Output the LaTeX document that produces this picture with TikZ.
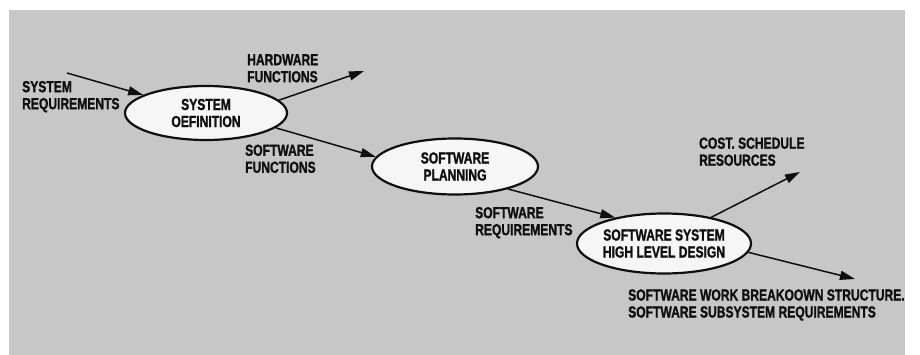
\documentclass[tikz,border=0pt]{standalone}
\usepackage{fontspec}
\newfontfamily\labfont{Liberation Sans}[FakeStretch=0.755, FakeBold=1.2]
\usetikzlibrary{shapes.geometric,arrows.meta}
\definecolor{bggray}{RGB}{199,199,199}
\definecolor{ellfill}{RGB}{246,246,246}
\definecolor{ink}{RGB}{15,15,15}
\tikzset{
  lab/.style={font=\labfont\bfseries\fontsize{16}{17}\selectfont, text=ink, inner sep=0pt, align=left, anchor=west},
  proc/.style={ellipse, draw=ink, line width=2.2pt, fill=ellfill, inner sep=0pt, align=center,
    font=\labfont\bfseries\fontsize{16}{17}\selectfont, text=ink},
  arr/.style={draw=ink, line width=1.5pt, -{Triangle[length=15pt,width=9pt]}}
}
\begin{document}
\begin{tikzpicture}[x=1pt,y=-1pt]
\useasboundingbox (0,0) rectangle (920,355);
\fill[white] (0,0) rectangle (920,355);
\fill[bggray] (9,10) rectangle (905,355);

% process ellipses
\node[proc, minimum width=162pt, minimum height=54pt] (sd) at (206,113) {SYSTEM\\OEFINITION};
\node[proc, minimum width=166pt, minimum height=56pt] (sp) at (455,166.5) {SOFTWARE\\PLANNING};
\node[proc, minimum width=174pt, minimum height=60pt] (hld) at (664,243.5) {SOFTWARE SYSTEM\\HIGH LEVEL DESIGN};

% labels
\node[lab] (lsr) at (22,96.7) {SYSTEM\\REQUIREMENTS};
\node[lab] (lhf) at (247,68.3) {HARDWARE\\FUNCTIONS};
\node[lab] (lsf) at (245,158.8) {SOFTWARE\\FUNCTIONS};
\node[lab] (lsq) at (475,222.7) {SOFTWARE\\REQUIREMENTS};
\node[lab] (lcs) at (699,151.7) {COST. SCHEDULE\\RESOURCES};
\node[lab] (lwb) at (628,305) {SOFTWARE WORK BREAKOOWN STRUCTURE.\\SOFTWARE SUBSYSTEM REQUIREMENTS};

% free ends
\coordinate (srin) at (67,73);
\coordinate (hwout) at (364,71);
\coordinate (csout) at (800,172);
\coordinate (wbout) at (855,279);

% connectors
\draw[arr] (srin) -- (sd);
\draw[arr] (sd.10) -- (hwout);
\draw[arr] (sd.-12) -- (sp.173);
\draw[arr] (sp.-23) -- (hld.152);
\draw[arr] (hld.29) -- (csout);
\draw[arr] (hld.-6) -- (wbout);
\end{tikzpicture}
\end{document}
